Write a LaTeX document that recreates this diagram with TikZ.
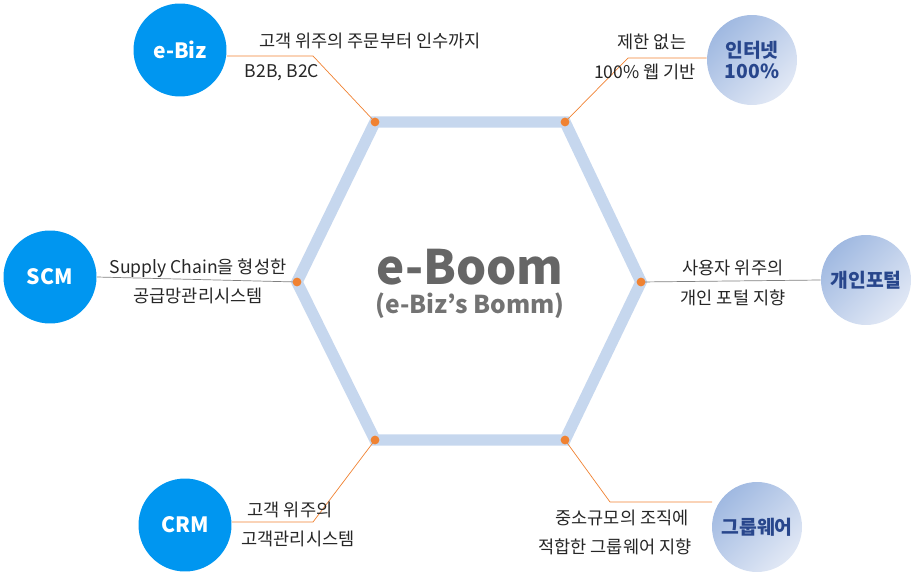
\documentclass[tikz,border=0pt]{standalone}
\usepackage{fontspec}
\setmainfont{Noto Sans CJK KR}
\usetikzlibrary{calc}
\definecolor{hexline}{RGB}{198,215,238}
\definecolor{dotor}{RGB}{240,130,50}
\definecolor{bizblue}{RGB}{0,150,240}
\definecolor{paleA}{RGB}{160,185,225}
\definecolor{paleB}{RGB}{225,232,245}
\definecolor{navy}{RGB}{40,70,140}
\begin{document}
\begin{tikzpicture}[x=0.02cm,y=-0.02cm]
	% `solid' circles on the left, `pale' circles on the right.
	\tikzstyle{solid} = [circle,fill=bizblue,minimum size=1.86cm,inner sep=0pt,text=white,font=\bfseries\fontsize{12}{12}\selectfont]
	\tikzstyle{pale} = [circle,left color=paleA,right color=paleB,shading angle=45,minimum size=1.8cm,inner sep=0pt,text=navy,font=\bfseries\fontsize{11}{12}\selectfont,align=center]
	\tikzstyle{vdot} = [circle,fill=dotor,minimum size=5pt,inner sep=0pt]
	\tikzstyle{lbl} = [font=\fontsize{10}{11}\selectfont,text=black!85]
	\tikzstyle{link} = [dotor,thin]
	\useasboundingbox (0,0) rectangle (918,577);
	%
	% Hexagon corners.
	\coordinate (h1) at (375,122);
	\coordinate (h2) at (565,122);
	\coordinate (h3) at (641,282);
	\coordinate (h4) at (565,440);
	\coordinate (h5) at (375,440);
	\coordinate (h6) at (297,282);
	\draw[hexline,line width=6.5pt,line join=miter] (h1)--(h2)--(h3)--(h4)--(h5)--(h6)--cycle;
	%
	% Title.
	\node[text=black!60,font=\bfseries\fontsize{27}{27}\selectfont] (title) at (470,267) {e-Boom};
	\node[text=black!55,font=\bfseries\fontsize{14}{14}\selectfont] (sub) at (470,306) {(e-Biz’s Bomm)};
	%
	% Circles.
	\node[solid] (ebiz) at (180,50) {e-Biz};
	\node[solid] (scm) at (50,277) {SCM};
	\node[solid] (crm) at (185,525) {CRM};
	\node[pale] (net) at (752,60) {인터넷\\100\%};
	\node[pale] (portal) at (866,280) {개인포털};
	\node[pale] (group) at (757,527) {그룹웨어};
	%
	% Connectors.
	\coordinate (b1) at (313,56);
	\coordinate (b2) at (628,58);
	\coordinate (b5) at (313,522);
	\coordinate (b4) at (610,502);
	\coordinate (b4e) at (712,502);
	\draw[link] (ebiz.east|-b1) -- (b1) -- (h1);
	\draw[link] (net.west|-b2) -- (b2) -- (h2);
	\draw[link] (crm.east|-b5) -- (b5) -- (h5);
	\draw[link] (h4) -- (b4) -- (b4e);
	\draw[black!50,thin] (scm.east) -- (h6);
	\draw[black!50,thin] (h3) -- (portal.west);
	\foreach \h in {h1,h2,h3,h4,h5,h6}
		\node[vdot] at (\h) {};
	%
	% Labels.
	\node[lbl] (t1) at (370,41) {고객 위주의 주문부터 인수까지};
	\node[lbl] (t2) at (282,73) {B2B, B2C};
	\node[lbl] (t3) at (652,42) {제한 없는};
	\node[lbl] (t4) at (645,72) {100\% 웹 기반};
	\node[lbl] (t5) at (198,268) {Supply Chain을 형성한};
	\node[lbl] (t6) at (198,296) {공급망관리시스템};
	\node[lbl] (t7) at (733,268) {사용자 위주의};
	\node[lbl] (t8) at (733,298) {개인 포털 지향};
	\node[lbl] (t9) at (290,510) {고객 위주의};
	\node[lbl] (t10) at (298,539) {고객관리시스템};
	\node[lbl] (t11) at (622,518) {중소규모의 조직에};
	\node[lbl] (t12) at (615,547) {적합한 그룹웨어 지향};
\end{tikzpicture}
\end{document}
